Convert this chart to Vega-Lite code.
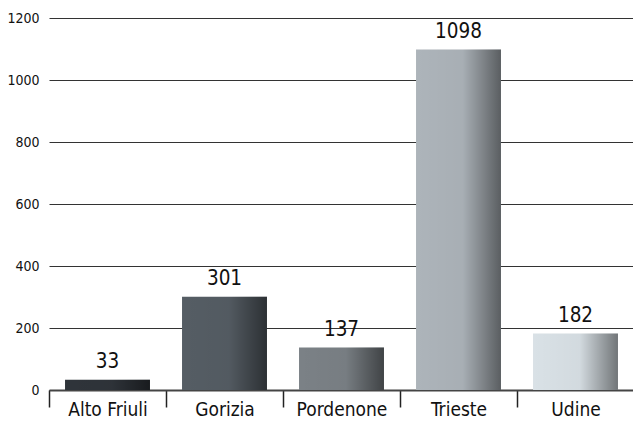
{
  "$schema": "https://vega.github.io/schema/vega-lite/v6.json",
  "width": 585,
  "height": 372,
  "autosize": {"type": "none"},
  "padding": {"left": 49, "top": 18, "right": 0, "bottom": 31},
  "background": "white",
  "config": {
    "view": {"stroke": null},
    "font": "'DejaVu Sans Condensed', 'Liberation Sans Narrow', 'Roboto', sans-serif"
  },
  "data": {
    "values": [
      {"area": "Alto Friuli", "value": 33},
      {"area": "Gorizia", "value": 301},
      {"area": "Pordenone", "value": 137},
      {"area": "Trieste", "value": 1098},
      {"area": "Udine", "value": 182}
    ]
  },
  "encoding": {
    "x": {
      "field": "area",
      "type": "nominal",
      "sort": null,
      "scale": {"paddingInner": 0.274, "paddingOuter": 0.137},
      "axis": {
        "title": null,
        "labelAngle": 0,
        "labelFontSize": 19,
        "labelColor": "#111",
        "labelPadding": -7,
        "bandPosition": 0,
        "tickOffset": -16,
        "labelOffset": 16,
        "tickSize": 17,
        "tickColor": "#222",
        "tickWidth": 1.5,
        "domainColor": "#444",
        "domainWidth": 2,
        "grid": false
      }
    },
    "y": {
      "field": "value",
      "type": "quantitative",
      "scale": {"domain": [0, 1200], "nice": false},
      "axis": {
        "title": null,
        "values": [0, 200, 400, 600, 800, 1000, 1200],
        "format": "d",
        "labelFontSize": 14,
        "labelColor": "#111",
        "labelPadding": 10,
        "ticks": false,
        "domain": false,
        "grid": true,
        "gridColor": "#333",
        "gridWidth": 1
      }
    }
  },
  "layer": [
    {
      "mark": {"type": "bar"},
      "encoding": {
        "color": {
          "field": "area",
          "type": "nominal",
          "sort": null,
          "legend": null,
          "scale": {"range": ["#2f343a", "#555d64", "#7b8186", "#adb4ba", "#d9e1e6"]}
        }
      }
    },
    {
      "mark": {
        "type": "bar",
        "color": {
          "gradient": "linear",
          "x1": 0, "y1": 0, "x2": 1, "y2": 0,
          "stops": [
            {"offset": 0, "color": "rgba(0,0,0,0)"},
            {"offset": 0.55, "color": "rgba(0,0,0,0.03)"},
            {"offset": 1, "color": "rgba(0,0,0,0.48)"}
          ]
        }
      }
    },
    {
      "mark": {"type": "text", "baseline": "alphabetic", "dy": -12, "fontSize": 20.5, "color": "#111"},
      "encoding": {"text": {"field": "value", "type": "quantitative"}}
    }
  ]
}
